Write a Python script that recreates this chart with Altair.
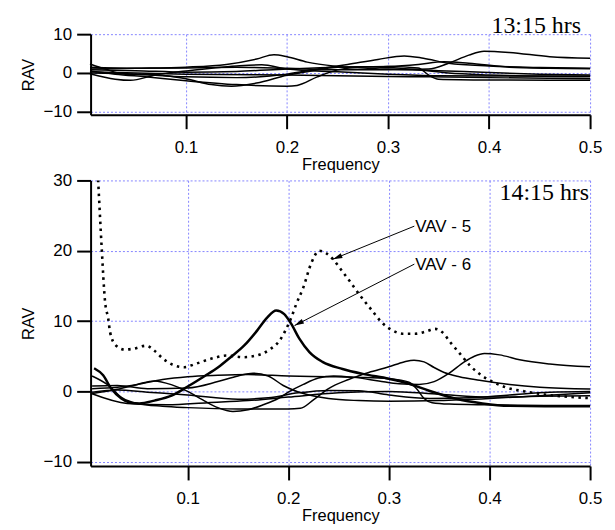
import math
import altair as alt
import pandas as pd

# ---------------- axis ticks ----------------
FREQ_TICKS = [0.1, 0.2, 0.3, 0.4, 0.5]
RAV_TICKS_TOP = [-10, 0, 10]
RAV_TICKS_BOTTOM = [-10, 0, 10, 20, 30]

# ---------------- 13:15 hrs panel ----------------
t1_f = [0.005, 0.05, 0.1, 0.14, 0.17, 0.187, 0.2, 0.22, 0.25, 0.3, 0.35, 0.4, 0.45, 0.5]
t1_v = [1.0, 1.2, 1.5, 2.2, 3.6, 4.7, 4.2, 2.8, 1.7, 1.0, 0.6, 0.1, -0.3, -0.5]
t2_f = [0.005, 0.05, 0.1, 0.15, 0.2, 0.23, 0.26, 0.29, 0.316, 0.335, 0.36, 0.4, 0.45, 0.5]
t2_v = [0.0, -0.3, -1.0, -1.2, -0.3, 1.0, 2.2, 3.5, 4.4, 3.8, 2.5, 1.8, 1.4, 1.2]
t3_f = [0.005, 0.05, 0.1, 0.15, 0.2, 0.25, 0.3, 0.34, 0.36, 0.38, 0.395, 0.42, 0.46, 0.5]
t3_v = [1.5, 1.2, 1.3, 1.5, 1.2, 0.8, 0.8, 1.0, 2.5, 4.6, 5.6, 5.3, 4.2, 3.8]
t4_f = [0.005, 0.03, 0.06, 0.1, 0.15, 0.2, 0.21, 0.23, 0.25, 0.27, 0.3, 0.33, 0.34, 0.35, 0.4, 0.5]
t4_v = [0.5, -0.3, -1.0, -2.0, -3.0, -3.4, -3.2, -1.0, 0.8, 1.5, 1.7, 1.3, -0.5, -1.6, -1.8, -1.9]
t5_f = [0.005, 0.02, 0.04, 0.06, 0.08, 0.1, 0.125, 0.145, 0.17, 0.2, 0.22, 0.25, 0.28, 0.3, 0.33, 0.36, 0.4, 0.5]
t5_v = [2.3, 1.0, -0.3, -0.4, -0.7, -1.5, -3.0, -3.4, -2.6, -0.6, 0.3, 1.5, 1.6, 1.4, 0.8, 0.0, -0.5, -1.0]
t6_f = [0.005, 0.03, 0.045, 0.07, 0.1, 0.15, 0.175, 0.2, 0.25, 0.3, 0.35, 0.4, 0.5]
t6_v = [-0.2, -1.6, -1.9, -0.5, 0.5, 1.8, 2.1, 1.0, 0.3, -0.3, -0.7, -0.8, -0.8]
t7_f = [0.005, 0.05, 0.1, 0.15, 0.2, 0.25, 0.3, 0.33, 0.355, 0.38, 0.42, 0.46, 0.5]
t7_v = [0.8, 0.6, 0.2, 0.4, 1.0, 1.5, 1.7, 2.2, 2.9, 2.5, 1.5, 1.2, 1.1]
t8_f = [0.005, 0.1, 0.2, 0.3, 0.34, 0.4, 0.5]
t8_v = [0.3, -0.3, -0.5, -0.9, -1.0, -1.2, -1.5]

# ---------------- 14:15 hrs panel ----------------
vav5_f = [0.008, 0.011, 0.0145, 0.0178, 0.0211, 0.0229, 0.0289, 0.0372, 0.0455, 0.0587,
          0.067, 0.0749, 0.085, 0.0966, 0.108, 0.1254, 0.1386, 0.1551, 0.1683, 0.1815,
          0.1914, 0.198, 0.203, 0.2079, 0.215, 0.223, 0.2307, 0.2444, 0.252, 0.262,
          0.2716, 0.2833, 0.293, 0.3027, 0.3144, 0.326, 0.3377, 0.3455, 0.3533, 0.361,
          0.3708, 0.3805, 0.3922, 0.4039, 0.4156, 0.435, 0.4545, 0.474, 0.5]
vav5_v = [38, 30, 20.5, 12.9, 10.3, 8.4, 6.5, 5.96, 6.06, 6.5,
          5.8, 4.73, 3.8, 3.45, 3.93, 4.73, 5.1, 4.87, 5.1, 5.96,
          7.24, 8.9, 10.5, 12.4, 14.8, 18.3, 20.0, 18.8, 17.4, 15.5,
          13.6, 11.5, 9.8, 8.75, 8.2, 8.2, 8.56, 8.9, 8.4, 7.0,
          5.34, 3.7, 2.27, 1.32, 0.61, 0.0, -0.43, -0.71, -0.95]
vav6_f = [0.007, 0.016, 0.024, 0.034, 0.043, 0.052, 0.067, 0.084, 0.1, 0.117, 0.13,
          0.143, 0.156, 0.169, 0.179, 0.188, 0.196, 0.203, 0.211, 0.221, 0.234, 0.254,
          0.274, 0.3, 0.32, 0.34, 0.366, 0.393, 0.42, 0.455, 0.5]
vav6_v = [3.3, 2.3, 0.4, -1.0, -1.6, -1.7, -1.3, -0.6, 0.7, 2.2, 3.4,
          4.9, 6.5, 8.65, 10.5, 11.5, 11.0, 9.6, 7.5, 5.6, 4.2, 3.2,
          2.5, 1.8, 1.1, 0.1, -1.0, -1.7, -2.05, -2.1, -2.1]
b1_f = [0.005, 0.02, 0.035, 0.05, 0.075, 0.1, 0.15, 0.2, 0.212, 0.225, 0.24, 0.26,
        0.28, 0.3, 0.315, 0.325, 0.335, 0.345, 0.355, 0.37, 0.39, 0.42, 0.45, 0.5]
b1_v = [2.2, 1.0, -0.9, -1.7, -2.1, -2.3, -2.5, -2.5, -2.4, -1.2, 0.4, 1.7,
        2.7, 3.5, 4.2, 4.45, 4.2, 3.4, 2.7, 2.1, 1.6, 1.0, 0.6, 0.35]
b2_f = [0.005, 0.03, 0.05, 0.067, 0.085, 0.1, 0.115, 0.13, 0.145, 0.16, 0.175, 0.19,
        0.2, 0.215, 0.23, 0.245, 0.265, 0.29, 0.31, 0.33, 0.345, 0.36, 0.375, 0.385,
        0.395, 0.41, 0.43, 0.46, 0.5]
b2_v = [-0.3, 0.3, 1.0, 1.5, 0.9, 0.0, -1.2, -2.3, -2.85, -2.6, -1.9, -1.0,
        -0.1, 1.0, 1.9, 2.2, 2.0, 1.5, 1.1, 1.0, 1.4, 2.6, 4.2, 5.0,
        5.4, 5.2, 4.5, 3.9, 3.5]
b3_f = [0.005, 0.03, 0.05, 0.075, 0.1, 0.13, 0.16, 0.2, 0.24, 0.27, 0.3, 0.32,
        0.328, 0.335, 0.343, 0.36, 0.4, 0.45, 0.5]
b3_v = [0.4, 0.6, 1.0, 1.7, 2.1, 2.3, 2.4, 2.2, 2.1, 2.0, 1.8, 1.3,
        0.3, -1.0, -1.6, -1.8, -1.9, -2.0, -2.0]
b4_f = [0.005, 0.03, 0.06, 0.1, 0.13, 0.15, 0.165, 0.18, 0.195, 0.215, 0.24, 0.27,
        0.3, 0.35, 0.4, 0.45, 0.5]
b4_v = [0.77, 0.85, 0.4, 0.5, 1.4, 2.2, 2.6, 2.2, 0.85, -0.3, -1.0, -1.3,
        -1.4, -1.3, -1.0, -0.6, -0.2]
b5_f = [0.005, 0.03, 0.06, 0.1, 0.15, 0.18, 0.21, 0.24, 0.27, 0.3, 0.34, 0.38, 0.42, 0.46, 0.5]
b5_v = [-0.1, 0.2, -0.1, -0.5, -1.1, -0.9, -0.2, 0.15, 0.1, -0.5, -1.0, -0.9, -0.5, -0.1, 0.0]
b6_f = [0.005, 0.04, 0.08, 0.12, 0.16, 0.2, 0.25, 0.3, 0.35, 0.4, 0.45, 0.5]
b6_v = [-0.33, -1.7, -1.9, -1.6, -1.3, -0.8, -0.2, 0.0, -0.4, -0.8, -0.7, -0.6]

# annotations
panel_titles = ["13:15 hrs", "14:15 hrs"]
title_pos = [(0.491, 10.0), (0.499, 27.2)]
vav_labels = ["VAV - 5", "VAV - 6"]
vav_label_pos = [(0.3253, 23.4), (0.3253, 18.0)]
arrow_tips = [(0.2444, 18.8), (0.2062, 9.36)]
arrow_tails = [(0.3253, 23.5), (0.3253, 18.1)]

# ---------------- layout constants ----------------
W = 502
H_TOP = 81
H_BOT = 287
X_DOM_TOP = [0.0056, 0.5]
X_DOM_BOT = [0.0035, 0.5]
Y_DOM_TOP = [-10.77, 10]
Y_DOM_BOT = [-10.6, 30]
GRID = "#8585ff"


def frame(series):
    rows = []
    for name, (f, v) in series.items():
        for a, b in zip(f, v):
            rows.append({"series": name, "freq": a, "rav": b})
    return pd.DataFrame(rows)


top_df = frame({"t1": (t1_f, t1_v), "t2": (t2_f, t2_v), "t3": (t3_f, t3_v),
                "t4": (t4_f, t4_v), "t5": (t5_f, t5_v), "t6": (t6_f, t6_v),
                "t7": (t7_f, t7_v), "t8": (t8_f, t8_v)})
thin_df = frame({"b1": (b1_f, b1_v), "b2": (b2_f, b2_v), "b3": (b3_f, b3_v),
                 "b4": (b4_f, b4_v), "b5": (b5_f, b5_v), "b6": (b6_f, b6_v)})
vav5_df = frame({"VAV-5": (vav5_f, vav5_v)})
vav6_df = frame({"VAV-6": (vav6_f, vav6_v)})


def xenc(dom):
    return alt.X("freq:Q", scale=alt.Scale(domain=dom, nice=False, zero=False),
                 axis=alt.Axis(values=FREQ_TICKS, format=".1f", title="Frequency"))


def yenc(dom, ticks):
    return alt.Y("rav:Q", scale=alt.Scale(domain=dom, nice=False, zero=False),
                 axis=alt.Axis(values=ticks, title="RAV"))


# ---- top panel ----
top_lines = alt.Chart(top_df).mark_line(color="black", strokeWidth=1.5, interpolate="monotone").encode(
    x=xenc(X_DOM_TOP), y=yenc(Y_DOM_TOP, RAV_TICKS_TOP), detail="series:N")
top_title_df = pd.DataFrame({"freq": [title_pos[0][0]], "rav": [title_pos[0][1]], "text": [panel_titles[0]]})
top_title = alt.Chart(top_title_df).mark_text(align="right", baseline="alphabetic", font="Liberation Serif",
                                               fontSize=24, color="black", dy=-1).encode(
    x="freq:Q", y="rav:Q", text="text:N")
top = alt.layer(top_lines, top_title).properties(width=W, height=H_TOP)

# ---- bottom panel ----
xb = xenc(X_DOM_BOT)
yb = yenc(Y_DOM_BOT, RAV_TICKS_BOTTOM)
thin = alt.Chart(thin_df).mark_line(color="black", strokeWidth=1.5, interpolate="monotone").encode(
    x=xb, y=yb, detail="series:N")
v5 = alt.Chart(vav5_df).mark_line(color="black", strokeWidth=2.6, strokeDash=[2.5, 4.5],
                                  interpolate="monotone", clip=True).encode(x=xb, y=yb)
v6 = alt.Chart(vav6_df).mark_line(color="black", strokeWidth=2.5, interpolate="monotone").encode(x=xb, y=yb)

bot_title_df = pd.DataFrame({"freq": [title_pos[1][0]], "rav": [title_pos[1][1]], "text": [panel_titles[1]]})
bot_title = alt.Chart(bot_title_df).mark_text(align="right", baseline="alphabetic", font="Liberation Serif",
                                               fontSize=24, color="black").encode(
    x="freq:Q", y="rav:Q", text="text:N")

lab_df = pd.DataFrame({"freq": [p[0] for p in vav_label_pos], "rav": [p[1] for p in vav_label_pos],
                       "text": vav_labels})
labels = alt.Chart(lab_df).mark_text(align="left", baseline="middle", font="Liberation Sans",
                                     fontSize=17, color="black", dx=1).encode(
    x="freq:Q", y="rav:Q", text="text:N")

# arrow geometry (pixel-space angle for the heads)
px_per_x = W / (X_DOM_BOT[1] - X_DOM_BOT[0])
px_per_y = H_BOT / (Y_DOM_BOT[1] - Y_DOM_BOT[0])
angles = []
for (tx, ty), (hx, hy) in zip(arrow_tails, arrow_tips):
    dx = (hx - tx) * px_per_x
    dy = -(hy - ty) * px_per_y
    angles.append(math.degrees(math.atan2(dx, -dy)) % 360)

arrow_df = pd.DataFrame({"freq": [t[0] for t in arrow_tails], "rav": [t[1] for t in arrow_tails],
                         "freq2": [h[0] for h in arrow_tips], "rav2": [h[1] for h in arrow_tips],
                         "angle": angles})
shafts = alt.Chart(arrow_df).mark_rule(color="black", strokeWidth=1).encode(
    x=alt.X("freq:Q"), y=alt.Y("rav:Q"), x2="freq2:Q", y2="rav2:Q")
heads = alt.Chart(arrow_df).mark_point(shape="M0,0L-0.55,2L0.55,2Z", filled=True, color="black",
                                       opacity=1, size=90).encode(
    x=alt.X("freq2:Q"), y=alt.Y("rav2:Q"), angle=alt.Angle("angle:Q", scale=None))

bottom = alt.layer(thin, v6, v5, bot_title, shafts, heads, labels).properties(width=W, height=H_BOT)

chart = alt.vconcat(top, bottom, spacing=66, bounds="flush").properties(
    padding={"left": 12, "top": 5, "right": 5, "bottom": 0}
).configure_view(stroke=None).configure_axis(
    domainColor="black", domainWidth=2, tickColor="black", tickWidth=2, tickSize=14,
    grid=True, gridColor=GRID, gridDash=[2, 2], gridWidth=1, gridOpacity=1,
    labelFont="Liberation Sans", labelFontSize=17, labelColor="black", labelFlush=False,
    labelOverlap=False,
    titleFont="Liberation Sans", titleFontSize=16.5, titleFontWeight="normal", titleColor="black"
).configure_axisX(labelPadding=11, titlePadding=1).configure_axisY(labelPadding=5, titlePadding=7)

chart.save("out.html", embed_options={"renderer": "svg", "actions": False})
